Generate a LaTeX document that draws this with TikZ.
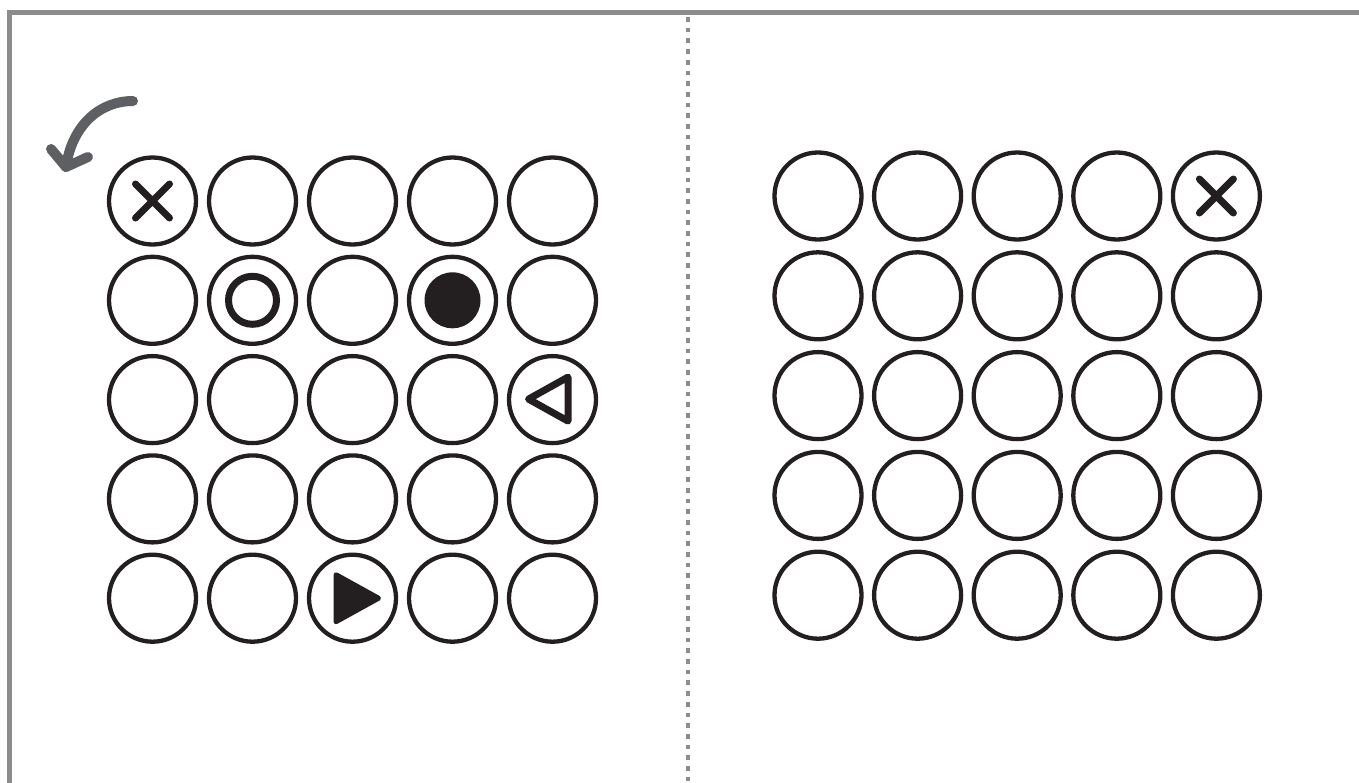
\documentclass[tikz,border=0pt]{standalone}
\definecolor{frame}{HTML}{8C8C8E}
\definecolor{arr}{HTML}{5E5F62}
\definecolor{ink}{HTML}{231F20}
\tikzset{
  cell/.style={circle, draw=ink, line width=4.3pt, minimum size=87pt, inner sep=0pt},
  symline/.style={draw=ink, line width=7pt, line cap=round, line join=round},
  arrline/.style={draw=arr, line width=10pt, line cap=round, line join=round}
}
\begin{document}
\begin{tikzpicture}[x=1pt,y=-1pt]
\useasboundingbox (0,0) rectangle (1359,782);
% frame
\coordinate (fb) at (9,785);
\coordinate (fc) at (9,12);
\coordinate (fr) at (1365,12);
\draw[frame, line width=5pt] (fb) -- (fc) -- (fr);
% divider
\coordinate (dtop) at (688,17);
\coordinate (dbot) at (688,782);
\draw[frame, line width=4pt, dash pattern=on 4.7pt off 6pt] (dtop) -- (dbot);
% grids
\foreach \i in {1,...,5}{
  \foreach \j in {1,...,5}{
    \node[cell] (L\j\i) at ({152.5+100*(\i-1)}, {201+99.3*(\j-1)}) {};
    \node[cell] (R\j\i) at ({818+99.6*(\i-1)}, {196+99.8*(\j-1)}) {};
  }
}
% symbols left
\begin{scope}[shift={(L11.center)}]
  \draw[symline] (-17,-17) -- (17,17) (-17,17) -- (17,-17);
\end{scope}
\begin{scope}[shift={(L22.center)}]
  \draw[ink, line width=7pt] (0,0) circle[radius=24];
\end{scope}
\begin{scope}[shift={(L24.center)}]
  \fill[ink] (0,0) circle[radius=28];
\end{scope}
\begin{scope}[shift={(L35.center)}]
  \draw[symline] (-24,-0.5) -- (15.5,-22.5) -- (15.5,21.5) -- cycle;
\end{scope}
\begin{scope}[shift={(L53.center)}]
  \filldraw[ink, line width=5pt, line join=round] (-16.5,-23.5) -- (26,0) -- (-16.5,23.5) -- cycle;
\end{scope}
% symbols right
\begin{scope}[shift={(R15.center)}]
  \draw[symline] (-17,-17) -- (17,17) (-17,17) -- (17,-17);
\end{scope}
% curved arrow
\coordinate (as) at (133,101);
\coordinate (at) at (66,167);
\coordinate (al) at (51,149);
\coordinate (ar) at (88,157);
\draw[arrline] (as) .. controls (100,101) and (72,125) .. (at);
\draw[arrline] (al) -- (at) -- (ar);
\end{tikzpicture}
\end{document}
